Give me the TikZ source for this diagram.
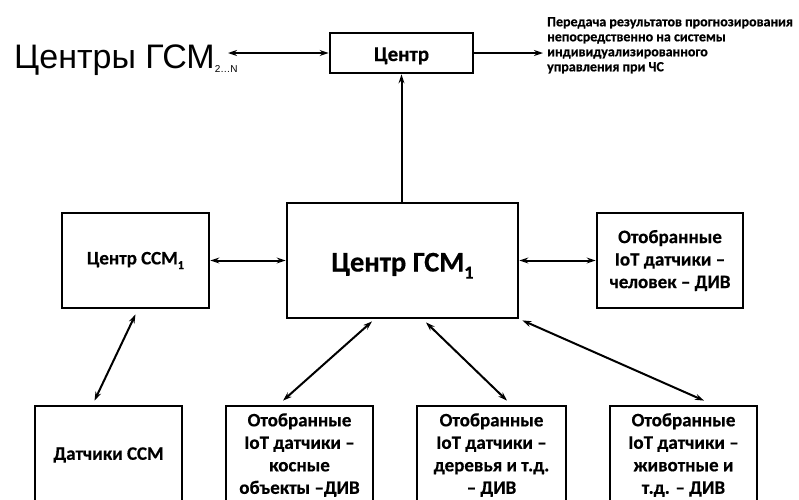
\documentclass[tikz,border=0pt]{standalone}
\usepackage{fontspec}
\setmainfont{Carlito}[BoldFont={Carlito Bold}]
\newfontfamily\bx{Carlito Bold}[FakeBold=0.5]
\newfontfamily\arialfont{Liberation Sans}
\usetikzlibrary{arrows.meta,calc}
\newcommand{\mysub}[1]{\raisebox{-0.25em}{\scalebox{0.65}{#1}}}
\begin{document}
\begin{tikzpicture}[x=1pt,y=-1pt,
  box/.style={draw,line width=2.8pt,minimum width=#1,align=center,inner sep=0pt,font=\bx\bfseries\fontsize{19}{22.5}\selectfont},
  conn/.style={line width=2pt,{Stealth[length=9pt,width=6pt,inset=3pt]}-{Stealth[length=9pt,width=6pt,inset=3pt]}},
  oneway/.style={line width=2pt,-{Stealth[length=9pt,width=6pt,inset=3pt]}}]
\useasboundingbox (0,0) rectangle (799,499);
\node[box=143pt,minimum height=40pt,font=\bx\bfseries\fontsize{21}{24}\selectfont] (cen) at (401.5,53) {\raisebox{-8pt}[0pt][0pt]{Центр}};
\node[box=231pt,minimum height=115pt,font=\bx\bfseries\fontsize{28.5}{32}\selectfont] (gsm1) at (402.5,260.5) {\raisebox{-11pt}[0pt][0pt]{Центр ГСМ\mysub{1}}};
\node[box=147pt,minimum height=95pt,font=\bx\bfseries\fontsize{19}{22}\selectfont] (ssm1) at (135.5,260.5) {Центр ССМ\mysub{1}};
\node[box=146pt,minimum height=95pt] (human) at (670,260.5) {Отобранные\\IoT датчики –\\человек – ДИВ};
\node[box=147pt,minimum height=98pt] (b1) at (108.5,455) {Датчики ССМ};
\node[box=147pt,minimum height=98pt] (b2) at (299.5,455) {Отобранные\\IoT датчики –\\косные\\объекты –ДИВ};
\node[box=149pt,minimum height=98pt] (b3) at (491.5,455) {Отобранные\\IoT датчики –\\деревья и т.д.\\– ДИВ};
\node[box=147pt,minimum height=98pt] (b4) at (683.5,455) {Отобранные\\IoT датчики –\\животные и\\т.д. – ДИВ};
\node[anchor=base west,inner sep=0pt,font=\arialfont\fontsize{34}{40}\selectfont] (ctrs) at (14,68) {Центры ГСМ\raisebox{-4pt}{\fontsize{10}{12}\selectfont 2…N}};
\node[anchor=north west,align=left,inner sep=0pt,font=\bx\bfseries\fontsize{14}{15}\selectfont] (res) at (547,17) {Передача результатов прогнозирования\\непосредственно на системы\\индивидуализированного\\управления при ЧС};
\coordinate (ctrsE) at (228,53);
\coordinate (resW) at (543,53);
\draw[conn] (ctrsE) -- (cen.west);
\draw[oneway] (cen.east) -- (resW);
\draw[oneway] (cen.south |- gsm1.north) -- (cen.south);
\draw[conn] (ssm1.east) -- (gsm1.west);
\draw[conn] (gsm1.east) -- (human.west);
\draw[conn] ([shift={(0,5)}]ssm1.south) -- ([shift={(-14,-4)}]b1.north);
\draw[conn] ([shift={(-30.5,2)}]gsm1.south) -- ([shift={(-16.5,-4)}]b2.north);
\draw[conn] ([shift={(23.5,3)}]gsm1.south) -- ([shift={(15.5,-4)}]b3.north);
\draw[conn] ([shift={(3,1)}]gsm1.south east) -- ([shift={(20.5,-4)}]b4.north);
\end{tikzpicture}
\end{document}
